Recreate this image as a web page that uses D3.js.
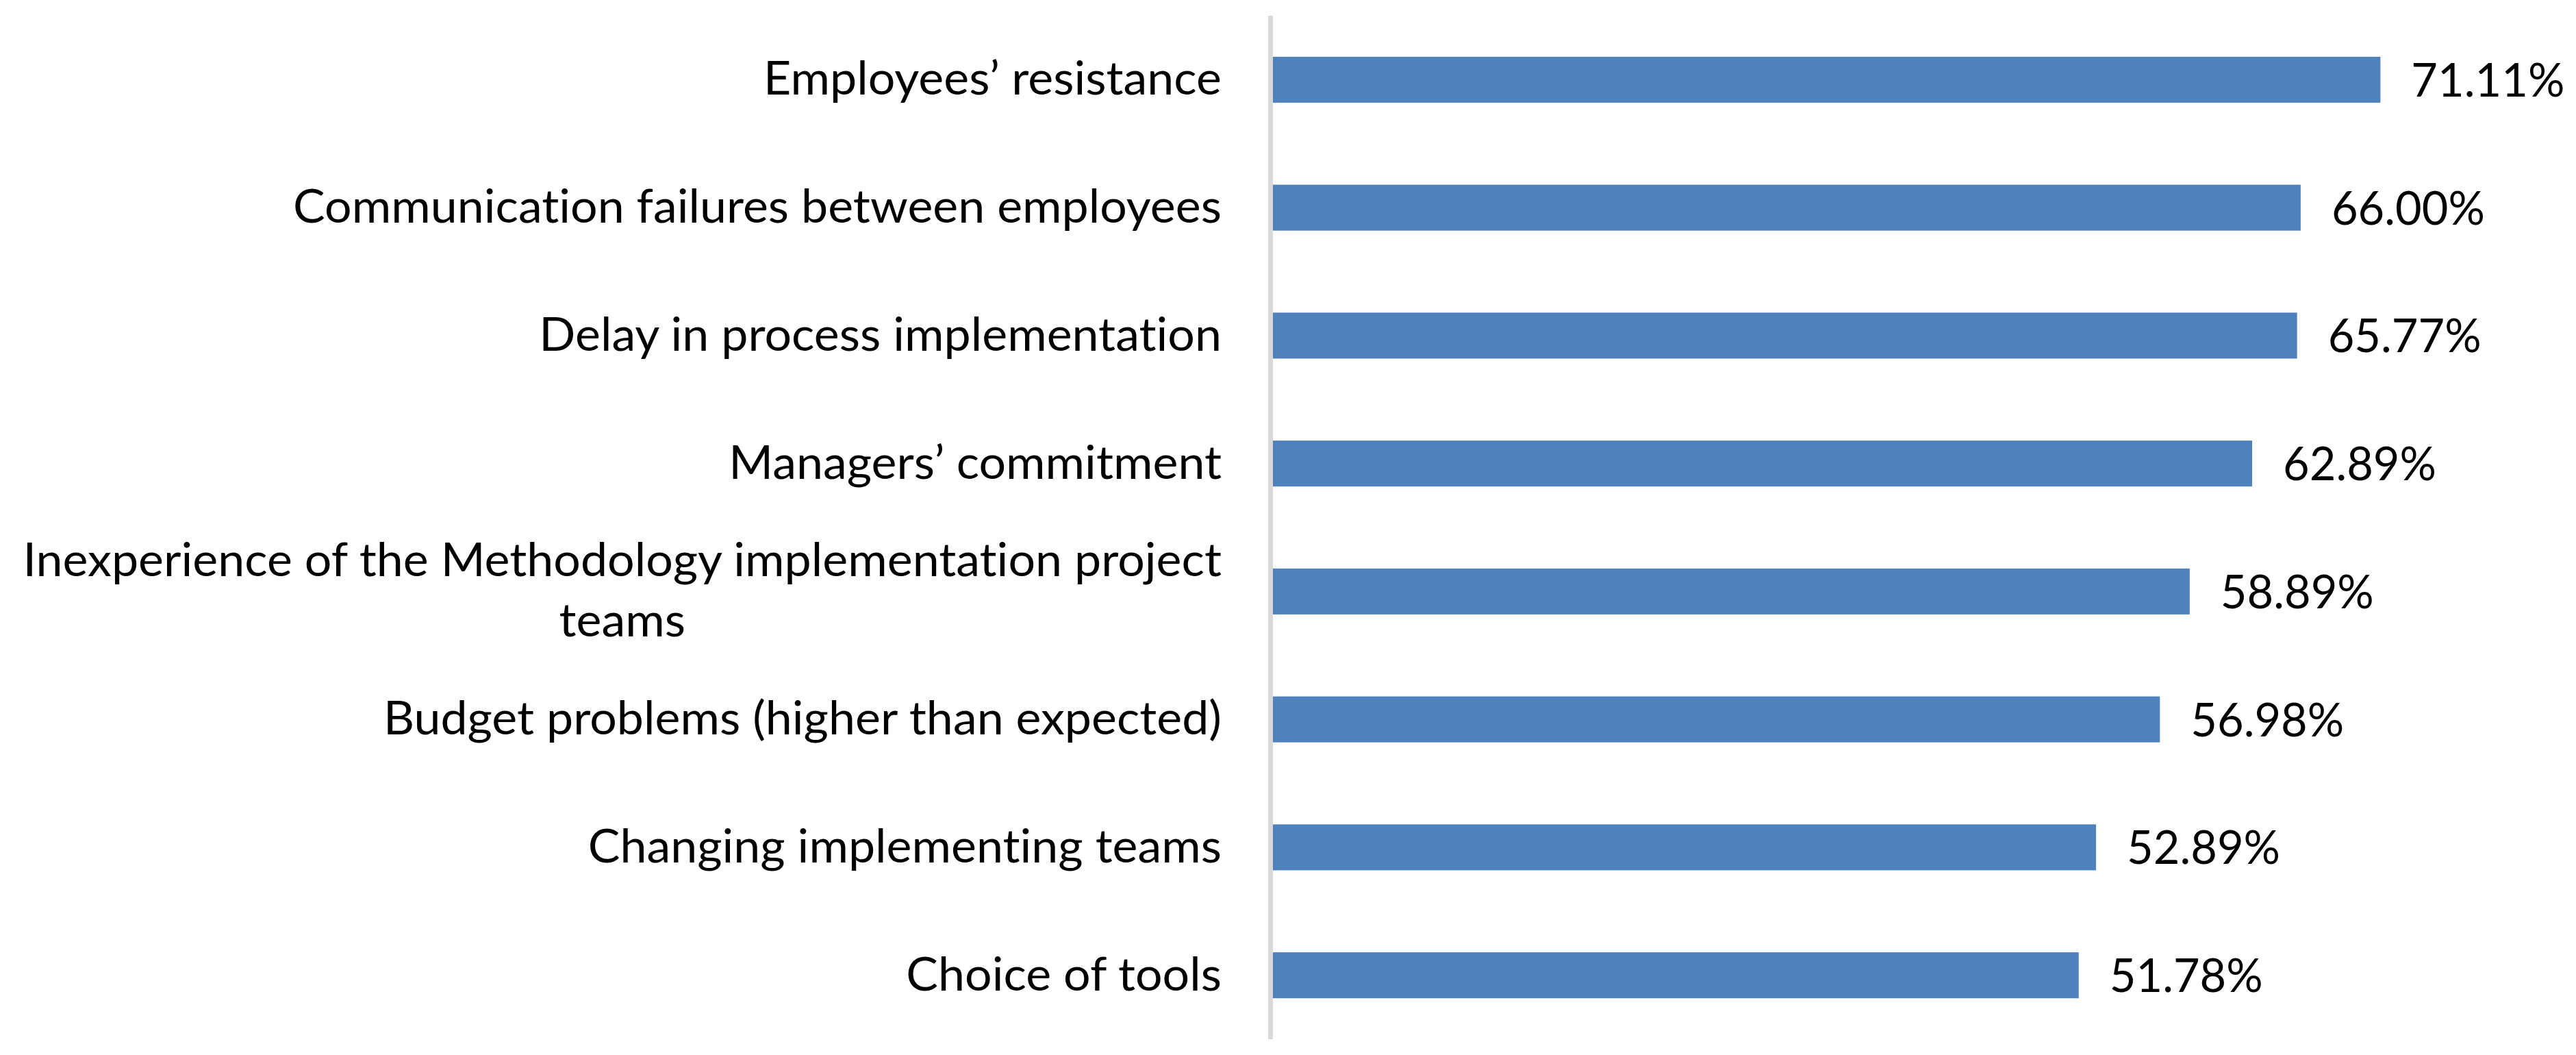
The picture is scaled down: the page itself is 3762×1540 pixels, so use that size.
<!DOCTYPE html>
<html>
<head>
<meta charset="utf-8">
<script src="https://cdn.jsdelivr.net/npm/d3@7"></script>
<style>
  html, body { margin: 0; padding: 0; background: #ffffff; }
  svg { display: block; }
  text { font-family: Lato, "Open Sans", sans-serif; fill: #000; font-variant-ligatures: none; font-feature-settings: "liga" 0, "clig" 0; }
</style>
</head>
<body>
<script>
// ---- data ----
const categories = [
  "Employees’ resistance",
  "Communication failures between employees",
  "Delay in process implementation",
  "Managers’ commitment",
  "Inexperience of the Methodology implementation project teams",
  "Budget problems (higher than expected)",
  "Changing implementing teams",
  "Choice of tools"
];
const values = [71.11, 66.00, 65.77, 62.89, 58.89, 56.98, 52.89, 51.78];
const valueLabels = ["71.11%", "66.00%", "65.77%", "62.89%", "58.89%", "56.98%", "52.89%", "51.78%"];
const axisMax = 80;

// ---- layout ----
const W = 3762, H = 1540;
const plotLeft = 1855.5, plotRight = 3679, plotTop = 23, plotBottom = 1517;
const fontSize = 68;
const barColor = "#4F81BD";

const svg = d3.select("body").append("svg").attr("width", W).attr("height", H);
svg.append("rect").attr("width", W).attr("height", H).attr("fill", "#fff");

const x = d3.scaleLinear().domain([0, axisMax]).range([plotLeft, plotRight]);
const y = d3.scaleBand().domain(categories).range([plotTop, plotBottom])
  .paddingInner(0.641).paddingOuter(0.3205);

// measurement helper
const meas = svg.append("text").attr("font-size", fontSize).attr("x", -9999).attr("y", -9999);
function textLen(s) { meas.text(s); return meas.node().getComputedTextLength(); }
// horizontal condensation so the humanist face matches the narrow original widths
const kCat = 1356 / textLen("Communication failures between employees");
const kVal = 224 / textLen("71.11%");

// bars
svg.append("g").selectAll("rect").data(values).join("rect")
  .attr("x", x(0))
  .attr("y", (d, i) => y(categories[i]))
  .attr("width", d => x(d) - x(0))
  .attr("height", y.bandwidth())
  .attr("fill", barColor);

// vertical category axis line
const axisG = svg.append("g").attr("transform", `translate(${x(0)},0)`)
  .call(d3.axisLeft(y).tickSize(0).tickSizeOuter(0).offset(0).tickFormat(""));
axisG.select(".domain").attr("stroke", "#D9D9D9").attr("stroke-width", 7);
axisG.selectAll(".tick text").remove();

// category labels (wrapped, right-aligned block, centred lines)
const labelRight = 1784;
const maxLine = 1800 / kCat;
const lineGap = 88;
function wrap(s) {
  const words = s.split(" ");
  const lines = [];
  let cur = "";
  words.forEach(w => {
    const t = cur ? cur + " " + w : w;
    if (cur && textLen(t) > maxLine) { lines.push(cur); cur = w; } else { cur = t; }
  });
  lines.push(cur);
  return lines;
}
categories.forEach(c => {
  const lines = wrap(c);
  const cy = y(c) + y.bandwidth() / 2;
  const base = cy + 22 - (lines.length - 1) * lineGap / 2;
  const blockW = d3.max(lines, l => textLen(l));
  const g = svg.append("g").attr("transform", `translate(${labelRight},${base}) scale(${kCat},1)`);
  lines.forEach((l, j) => {
    g.append("text").attr("font-size", fontSize)
      .attr("x", lines.length > 1 ? -blockW / 2 : 0)
      .attr("y", j * lineGap)
      .attr("text-anchor", lines.length > 1 ? "middle" : "end")
      .text(l);
  });
});

// value labels
values.forEach((v, i) => {
  const cy = y(categories[i]) + y.bandwidth() / 2;
  svg.append("g").attr("transform", `translate(${x(v) + 45},${cy + 24.5}) scale(${kVal},1)`)
    .append("text").attr("font-size", fontSize).text(valueLabels[i]);
});

meas.remove();
</script>
</body>
</html>
